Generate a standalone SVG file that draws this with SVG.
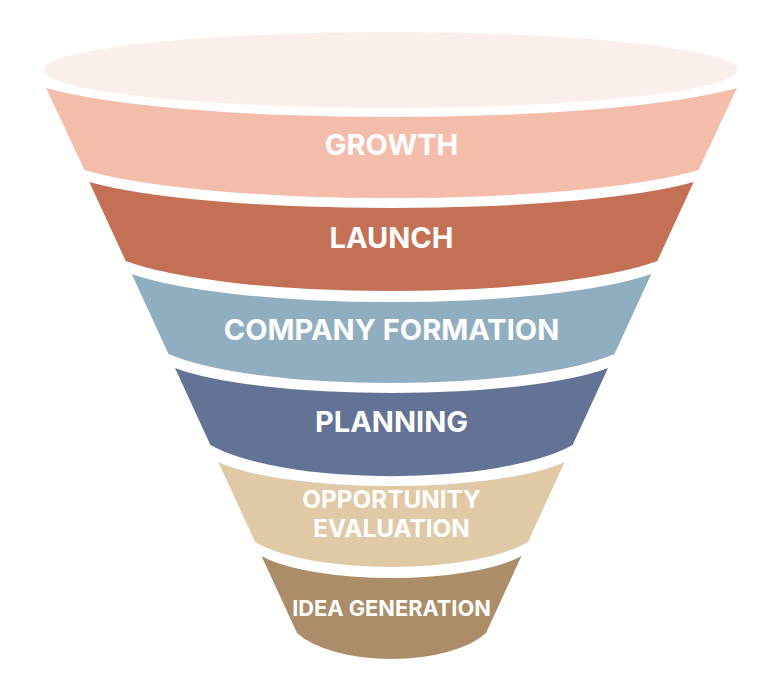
<svg xmlns="http://www.w3.org/2000/svg" width="784" height="698" viewBox="0 0 784 698">
<style>
.lbl{font-family:Inter,"Liberation Sans",Arial,sans-serif;font-weight:700;fill:#FFFFFF;text-anchor:middle}
</style>
<rect width="784" height="698" fill="#FFFFFF"/>
<g id="rim">
<ellipse cx="390.5" cy="70" rx="346.5" ry="38" fill="#FBEFEC"/>
</g>
<g id="growth">
<path d="M46,88 L84.5,170 A340.8,49.6 0 0 0 698.5,170 L737,88 A383.5,51.4 0 0 1 46,88 Z" fill="#F3BCAB"/>
<text class="lbl" x="391.5" y="155" font-size="29">GROWTH</text>
</g>
<g id="launch">
<path d="M89.3,182 L125.7,261 A295,53.2 0 0 0 657.3,261 L693.7,182 A335.4,46.1 0 0 1 89.3,182 Z" fill="#C47055"/>
<text class="lbl" x="391.5" y="248" font-size="29">LAUNCH</text>
</g>
<g id="company-formation">
<path d="M131.7,274 L168.5,354 A247.5,51.4 0 0 0 614.5,354 L651.3,274 A288.4,49.6 0 0 1 131.7,274 Z" fill="#90AEC0"/>
<text class="lbl" x="391.5" y="340" font-size="29">COMPANY FORMATION</text>
</g>
<g id="planning">
<path d="M175,368 L210.4,445 A201,55 0 0 0 572.6,445 L608,368 A240.3,44.3 0 0 1 175,368 Z" fill="#627396"/>
<text class="lbl" x="391.5" y="432" font-size="29">PLANNING</text>
</g>
<g id="opportunity-evaluation">
<path d="M218.3,462 L255.1,542 A151.4,44.3 0 0 0 527.9,542 L564.7,462 A192.3,42.6 0 0 1 218.3,462 Z" fill="#E0C9A7"/>
<text class="lbl" x="391.5" y="508" font-size="24.3">OPPORTUNITY</text>
<text class="lbl" x="391.5" y="537" font-size="24.3">EVALUATION</text>
</g>
<g id="idea-generation">
<path d="M261.5,556 L297,633 A104.9,46.1 0 0 0 486,633 L521.5,556 A144.3,39 0 0 1 261.5,556 Z" fill="#AB8E69"/>
<text class="lbl" x="391.5" y="616" font-size="21.8">IDEA GENERATION</text>
</g>
<g id="connectors"/>
</svg>
